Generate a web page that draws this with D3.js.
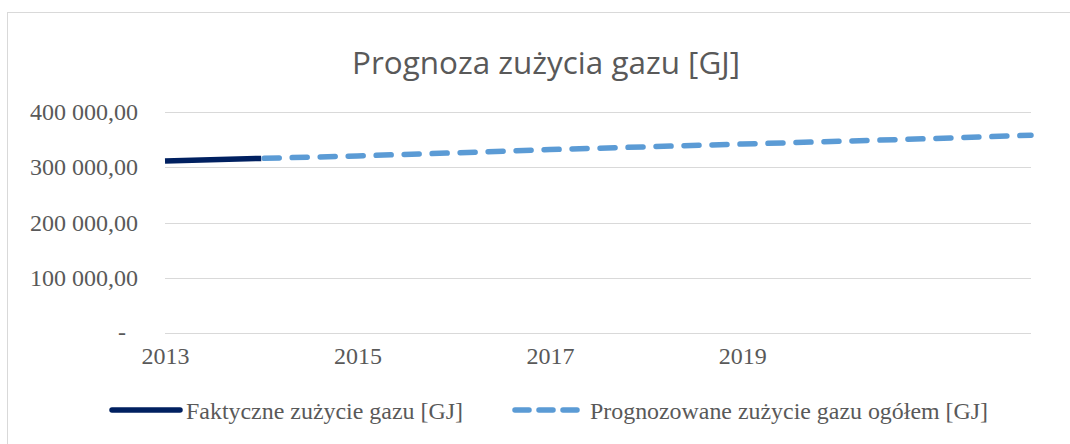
<!DOCTYPE html>
<html lang="pl">
<head>
<meta charset="utf-8">
<title>Prognoza zużycia gazu [GJ]</title>
<script src="https://d3js.org/d3.v7.min.js"></script>
<style>
  body { margin: 0; background: #fff; }
  .grid line { stroke: #d9d9d9; stroke-width: 1; shape-rendering: crispEdges; }
  .tick text { font-family: "Liberation Serif", "Times New Roman", serif; fill: #595959; }
</style>
</head>
<body>
<div id="chart"></div>
<script>
// data
var years = [2013, 2014, 2015, 2016, 2017, 2018, 2019, 2020, 2021, 2022];
var yearLabels = [2013, 2015, 2017, 2019];
var actualYears = [2013, 2014];
var actualValues = [311500, 316000];
var forecastYears = [2014, 2015, 2016, 2017, 2018, 2019, 2020, 2021, 2022];
var forecastValues = [316000, 320500, 326000, 332000, 337000, 342000, 347000, 352000, 358000];
var yTicks = [0, 100000, 200000, 300000, 400000];
var seriesNames = ["Faktyczne zużycie gazu [GJ]", "Prognozowane zużycie gazu ogółem [GJ]"];
var seriesColors = ["#002060", "#5b9bd5"];

var W = 1070, H = 444;
var margin = {top: 112, right: 39, bottom: 111, left: 165};
var width = W - margin.left - margin.right,
    height = H - margin.top - margin.bottom;

var canvas = d3.select("#chart").append("svg")
  .attr("width", W)
  .attr("height", H);

// outer frame
canvas.append("rect")
  .attr("x", 7.5).attr("y", 12.5)
  .attr("width", 1080).attr("height", 460)
  .attr("fill", "none")
  .attr("stroke", "#d9d9d9");

canvas.append("text")
  .attr("x", 546).attr("y", 74)
  .attr("text-anchor", "middle")
  .attr("textLength", 388)
  .attr("lengthAdjust", "spacingAndGlyphs")
  .style("font-family", "'Open Sans', 'Noto Sans', sans-serif")
  .style("font-size", "31px")
  .style("fill", "#595959")
  .text("Prognoza zużycia gazu [GJ]");

var svg = canvas.append("g")
  .attr("transform", "translate(" + margin.left + "," + margin.top + ")");

var x = d3.scalePoint().domain(years).range([0, width]);
var y = d3.scaleLinear().domain([0, 400000]).range([height, 0]);

function fmt(v) {
  if (v === 0) return "-";
  var s = String(Math.round(v));
  return s.replace(/\B(?=(\d{3})+(?!\d))/g, " ") + ",00";
}

// gridlines
svg.append("g").attr("class", "grid")
  .selectAll("line").data(yTicks).enter().append("line")
  .attr("x1", 0).attr("x2", width)
  .attr("y1", function(d) { return Math.round(y(d)) + 0.5; })
  .attr("y2", function(d) { return Math.round(y(d)) + 0.5; });

// y axis
var yAxis = svg.append("g")
  .call(d3.axisLeft(y).tickValues(yTicks).tickFormat(fmt).tickSize(0).tickPadding(27));
yAxis.select(".domain").remove();
yAxis.selectAll("text").style("font-size", "24px");
yAxis.selectAll(".tick").filter(function(d) { return d === 0; })
  .select("text").attr("dx", -12).attr("dy", "0.25em");

// x axis
var xAxis = svg.append("g")
  .attr("transform", "translate(0," + height + ")")
  .call(d3.axisBottom(x).tickValues(yearLabels).tickSize(0).tickPadding(14));
xAxis.select(".domain").remove();
xAxis.selectAll("text").style("font-size", "24px");

var line = d3.line()
  .x(function(d) { return x(d[0]); })
  .y(function(d) { return y(d[1]); });

svg.append("path")
  .datum(d3.zip(actualYears, actualValues))
  .attr("d", line)
  .attr("fill", "none")
  .attr("stroke", seriesColors[0])
  .attr("stroke-width", 5.5);

svg.append("path")
  .datum(d3.zip(forecastYears, forecastValues))
  .attr("d", line)
  .attr("fill", "none")
  .attr("stroke", seriesColors[1])
  .attr("stroke-width", 5.5)
  .attr("stroke-linecap", "round")
  .attr("stroke-dasharray", "15,13")
  .attr("stroke-dashoffset", -3);

// legend
var legendItems = [
  {name: seriesNames[0], color: seriesColors[0], x1: 112, x2: 180, tx: 186, tw: 277, dash: null},
  {name: seriesNames[1], color: seriesColors[1], x1: 515, x2: 582, tx: 590, tw: 398, dash: "14,10"}
];
var legend = canvas.selectAll(".legend").data(legendItems).enter()
  .append("g").attr("class", "legend");
legend.append("line")
  .attr("x1", function(d) { return d.x1; })
  .attr("x2", function(d) { return d.x2; })
  .attr("y1", 410).attr("y2", 410)
  .attr("stroke", function(d) { return d.color; })
  .attr("stroke-width", 5.5)
  .attr("stroke-linecap", "round")
  .attr("stroke-dasharray", function(d) { return d.dash; });
legend.append("text")
  .attr("x", function(d) { return d.tx; })
  .attr("y", 419)
  .attr("textLength", function(d) { return d.tw; })
  .attr("lengthAdjust", "spacingAndGlyphs")
  .style("font-family", "'Liberation Serif', 'Times New Roman', serif")
  .style("font-size", "24px")
  .style("fill", "#595959")
  .text(function(d) { return d.name; });
</script>
</body>
</html>
